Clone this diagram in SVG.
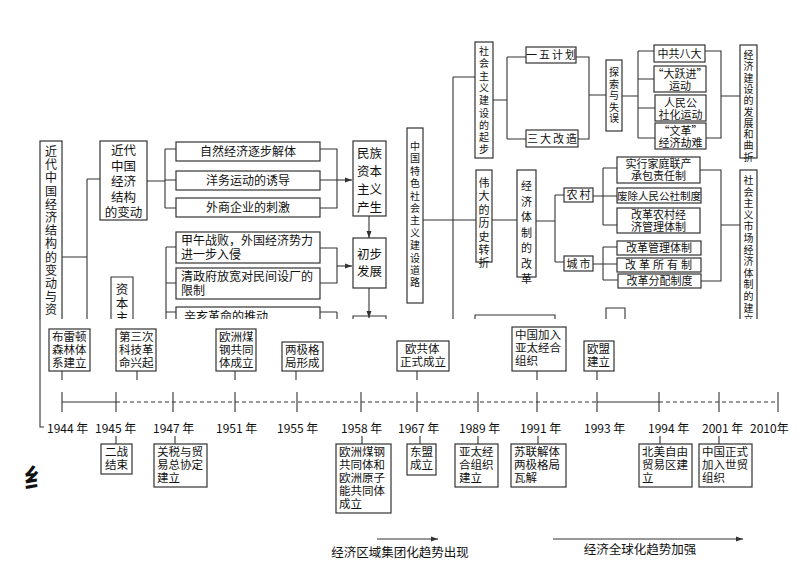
<svg xmlns="http://www.w3.org/2000/svg" width="800" height="566" viewBox="0 0 800 566">
<style>
text{font-family:"Noto Sans CJK SC","Noto Sans",sans-serif;fill:#111;}
.b{fill:#fff;stroke:#333;stroke-width:1.2}
.l{fill:none;stroke:#333;stroke-width:1.1}
.t12{font-size:12px}.t11{font-size:11px}.t10{font-size:10px}.t13{font-size:12.5px}.e{font-size:11.5px}
.m{text-anchor:middle}
.d{stroke-dasharray:4 3}
</style>
<defs>
<marker id="a" markerWidth="8" markerHeight="8" refX="7" refY="4" orient="auto" markerUnits="userSpaceOnUse"><path d="M0,1.5 L7,4 L0,6.5 z" fill="#333"/></marker>
<clipPath id="top"><rect x="0" y="0" width="800" height="319"/></clipPath>
</defs>
<rect width="800" height="566" fill="#fff"/>
<g id="upper" clip-path="url(#top)">
<g id="connectors" class="l">
<path d="M62,257 H87 M87,179 V330 M87,179 H100"/>
<path d="M147,181 H165 M165,149 V208 M165,149 H176 M165,180 H176 M165,208 H176"/>
<path d="M320,149 H337 V208 H320 M320,180 H337"/>
<path d="M337,180 H352" marker-end="url(#a)"/>
<path d="M369,216 V238" marker-end="url(#a)"/>
<path d="M369,288 V318" marker-end="url(#a)"/>
<path d="M166,247 V330 M166,247 H176 M166,283 H176 M166,312 H176"/>
<path d="M320,248 H337 V283 H320 M337,312 V330 M320,312 H337"/>
<path d="M337,266 H352" marker-end="url(#a)"/>
<path d="M423,220 H453 M453,77 V330 M453,77 H475 M453,220 H476"/>
<path d="M493,100 H507 M507,57 V139 M507,57 H526 M507,139 H526"/>
<path d="M576,57 H589 V139 H578 M589,95 H606"/>
<path d="M622,96 H638 M638,51 V138 M638,51 H654 M638,79 H654 M638,108 H655 M638,138 H655"/>
<path d="M705,51 H721 V138 H706 M721,96 H740"/>
<path d="M492,220 H517 M536,221 H555 M555,195 V262 M555,195 H564 M555,262 H564"/>
<path d="M593,196 H603 M603,168 V225 M603,168 H617 M603,196 H617 M603,225 H617"/>
<path d="M593,264 H603 M603,247 V280 M603,247 H617 M603,264 H617 M603,280 H618"/>
<path d="M700,170 H721 V281 H701 M721,225 H740"/>
<path d="M475,330 V315 H555 V330 M606,330 V308 H625 V330"/>
<path d="M353,330 V316 H386 V330"/>
<path d="M111,330 V277 H133 V330"/>
</g>
<g id="n-left"><rect class="b" x="40" y="141" width="22" height="200"/>
<text class="t12 m"><tspan x="51" y="156">近</tspan><tspan x="51" dy="13.2">代</tspan><tspan x="51" dy="13.2">中</tspan><tspan x="51" dy="13.2">国</tspan><tspan x="51" dy="13.2">经</tspan><tspan x="51" dy="13.2">济</tspan><tspan x="51" dy="13.2">结</tspan><tspan x="51" dy="13.2">构</tspan><tspan x="51" dy="13.2">的</tspan><tspan x="51" dy="13.2">变</tspan><tspan x="51" dy="13.2">动</tspan><tspan x="51" dy="13.2">与</tspan><tspan x="51" dy="13.2">资</tspan></text></g>
<g id="n-jgbd"><rect class="b" x="100" y="141" width="47" height="79"/>
<text class="t13 m"><tspan x="123.5" y="155">近代</tspan><tspan x="123.5" dy="15.5">中国</tspan><tspan x="123.5" dy="15.5">经济</tspan><tspan x="123.5" dy="15.5">结构</tspan><tspan x="123.5" dy="15.5">的变动</tspan></text></g>
<g id="n-zb"><text class="t13 m"><tspan x="122" y="294">资</tspan><tspan x="122" dy="14">本</tspan><tspan x="122" dy="14">主</tspan></text></g>
<g id="n-zr"><rect class="b" x="176" y="142" width="144" height="19"/><text class="t12 m" x="248" y="156">自然经济逐步解体</text></g>
<g id="n-yw"><rect class="b" x="176" y="171" width="144" height="19"/><text class="t12 m" x="248" y="185">洋务运动的诱导</text></g>
<g id="n-ws"><rect class="b" x="176" y="198" width="144" height="19"/><text class="t12 m" x="248" y="212">外商企业的刺激</text></g>
<g id="n-mz"><rect class="b" x="353" y="141" width="33" height="75"/>
<text class="t13 m"><tspan x="369.5" y="158">民族</tspan><tspan x="369.5" dy="18">资本</tspan><tspan x="369.5" dy="18">主义</tspan><tspan x="369.5" dy="18">产生</tspan></text></g>
<g id="n-cb"><rect class="b" x="353" y="238" width="33" height="50"/>
<text class="t13 m"><tspan x="369.5" y="259">初步</tspan><tspan x="369.5" dy="17">发展</tspan></text></g>
<g id="n-jw"><rect class="b" x="176" y="232" width="144" height="31"/>
<text class="t12"><tspan x="181" y="245">甲午战败，外国经济势力</tspan><tspan x="181" dy="14">进一步入侵</tspan></text></g>
<g id="n-qzf"><rect class="b" x="176" y="268" width="144" height="31"/>
<text class="t12"><tspan x="181" y="281">清政府放宽对民间设厂的</tspan><tspan x="181" dy="14">限制</tspan></text></g>
<g id="n-xh"><rect class="b" x="176" y="307" width="144" height="19"/><text class="t12" x="184" y="321">辛亥革命的推动</text></g>
<g id="n-zgts"><rect class="b" x="407" y="128" width="16" height="175"/>
<text class="t10 m"><tspan x="415" y="150">中</tspan><tspan x="415" dy="12.4">国</tspan><tspan x="415" dy="12.4">特</tspan><tspan x="415" dy="12.4">色</tspan><tspan x="415" dy="12.4">社</tspan><tspan x="415" dy="12.4">会</tspan><tspan x="415" dy="12.4">主</tspan><tspan x="415" dy="12.4">义</tspan><tspan x="415" dy="12.4">建</tspan><tspan x="415" dy="12.4">设</tspan><tspan x="415" dy="12.4">道</tspan><tspan x="415" dy="12.4">路</tspan></text></g>
<g id="n-qb"><rect class="b" x="475" y="42" width="18" height="116"/>
<text class="t10 m"><tspan x="484" y="55">社</tspan><tspan x="484" dy="12.3">会</tspan><tspan x="484" dy="12.3">主</tspan><tspan x="484" dy="12.3">义</tspan><tspan x="484" dy="12.3">建</tspan><tspan x="484" dy="12.3">设</tspan><tspan x="484" dy="12.3">的</tspan><tspan x="484" dy="12.3">起</tspan><tspan x="484" dy="12.3">步</tspan></text></g>
<g id="n-15"><rect class="b" x="526" y="47" width="50" height="16"/><text class="t11 m" x="552" y="59" letter-spacing="2">一五计划</text></g>
<g id="n-3d"><rect class="b" x="526" y="130" width="52" height="17"/><text class="t11 m" x="553" y="143" letter-spacing="2">三大改造</text></g>
<g id="n-ts"><rect class="b" x="606" y="60" width="16" height="71"/>
<text class="t10 m"><tspan x="614" y="76">探</tspan><tspan x="614" dy="11.5">索</tspan><tspan x="614" dy="11.5">与</tspan><tspan x="614" dy="11.5">失</tspan><tspan x="614" dy="11.5">误</tspan></text></g>
<g id="n-8d"><rect class="b" x="654" y="45" width="51" height="17"/><text class="t11 m" x="679.5" y="58">中共八大</text></g>
<g id="n-dyj"><rect class="b" x="654" y="66" width="52" height="26"/><text class="t11 m"><tspan x="680" y="78">“大跃进”</tspan><tspan x="680" dy="12">运动</tspan></text></g>
<g id="n-rmgs"><rect class="b" x="655" y="95" width="51" height="26"/><text class="t11 m"><tspan x="680.5" y="107">人民公</tspan><tspan x="680.5" dy="12">社化运动</tspan></text></g>
<g id="n-wg"><rect class="b" x="655" y="123" width="51" height="26"/><text class="t11 m"><tspan x="680.5" y="135">“文革”</tspan><tspan x="680.5" dy="12">经济劫难</tspan></text></g>
<g id="n-fzqz"><rect class="b" x="740" y="45" width="17" height="113"/>
<text class="t10 m"><tspan x="748.5" y="59">经</tspan><tspan x="748.5" dy="11.3">济</tspan><tspan x="748.5" dy="11.3">建</tspan><tspan x="748.5" dy="11.3">设</tspan><tspan x="748.5" dy="11.3">的</tspan><tspan x="748.5" dy="11.3">发</tspan><tspan x="748.5" dy="11.3">展</tspan><tspan x="748.5" dy="11.3">和</tspan><tspan x="748.5" dy="11.3">曲</tspan><tspan x="748.5" dy="11.3">折</tspan></text></g>
<g id="n-wd"><rect class="b" x="476" y="170" width="16" height="92"/>
<text class="t11 m"><tspan x="484" y="187">伟</tspan><tspan x="484" dy="13.4">大</tspan><tspan x="484" dy="13.4">的</tspan><tspan x="484" dy="13.4">历</tspan><tspan x="484" dy="13.4">史</tspan><tspan x="484" dy="13.4">转</tspan><tspan x="484" dy="13.4">折</tspan></text></g>
<g id="n-gg"><rect class="b" x="517" y="170" width="19" height="107"/>
<text class="t11 m"><tspan x="526.5" y="190">经</tspan><tspan x="526.5" dy="15.5">济</tspan><tspan x="526.5" dy="15.5">体</tspan><tspan x="526.5" dy="15.5">制</tspan><tspan x="526.5" dy="15.5">的</tspan><tspan x="526.5" dy="15.5">改</tspan><tspan x="526.5" dy="15.5">革</tspan></text></g>
<g id="n-nc"><rect class="b" x="564" y="188" width="29" height="14"/><text class="t11 m" x="579.5" y="199" letter-spacing="2">农村</text></g>
<g id="n-cs"><rect class="b" x="564" y="256" width="29" height="15"/><text class="t11 m" x="579.5" y="268" letter-spacing="2">城市</text></g>
<g id="n-jt"><rect class="b" x="617" y="157" width="83" height="26"/><text class="t11 m"><tspan x="658.5" y="168">实行家庭联产</tspan><tspan x="658.5" dy="12">承包责任制</tspan></text></g>
<g id="n-fc"><rect class="b" x="617" y="188" width="84" height="15"/><text class="m" x="659" y="200" font-size="10.5">废除人民公社制度</text></g>
<g id="n-ncjj"><rect class="b" x="617" y="208" width="83" height="25"/><text class="t11 m"><tspan x="658.5" y="219">改革农村经</tspan><tspan x="658.5" dy="12">济管理体制</tspan></text></g>
<g id="n-gl"><rect class="b" x="617" y="241" width="84" height="14"/><text class="t11 m" x="659" y="252">改革管理体制</text></g>
<g id="n-syz"><rect class="b" x="617" y="258" width="84" height="14"/><text class="t11 m" x="660" y="269" letter-spacing="3">改革所有制</text></g>
<g id="n-fp"><rect class="b" x="618" y="274" width="83" height="14"/><text class="t11 m" x="659.5" y="285">改革分配制度</text></g>
<g id="n-scjj"><rect class="b" x="740" y="170" width="17" height="160"/>
<text class="t10 m"><tspan x="748.5" y="184">社</tspan><tspan x="748.5" dy="11.6">会</tspan><tspan x="748.5" dy="11.6">主</tspan><tspan x="748.5" dy="11.6">义</tspan><tspan x="748.5" dy="11.6">市</tspan><tspan x="748.5" dy="11.6">场</tspan><tspan x="748.5" dy="11.6">经</tspan><tspan x="748.5" dy="11.6">济</tspan><tspan x="748.5" dy="11.6">体</tspan><tspan x="748.5" dy="11.6">制</tspan><tspan x="748.5" dy="11.6">的</tspan><tspan x="748.5" dy="11.6">建</tspan><tspan x="748.5" dy="11.6">立</tspan></text></g>
</g>
<g id="timeline">
<path class="l" d="M40,319 V427 H44"/>
<path class="l" d="M62,402 H116 M597,402 H659"/>
<path class="l d" d="M116,402 H597 M659,402 H778"/>
<path class="l" d="M62,392 V412 M116,392 V412 M173,392 V412 M235,392 V412 M297,392 V412 M361,392 V412 M417,392 V412 M478,392 V412 M537,392 V412 M597,392 V412 M659,392 V412 M719,392 V412 M778,392 V412"/>
<path class="l" d="M62,371 V380 M137,371 V380 M235,371 V380 M296,371 V380 M417,371 V380 M537,371 V380 M597,371 V380"/>
<path class="l" d="M116,436 V444 M175,436 V444 M362,436 V444 M420,436 V444 M478,436 V444 M538,436 V444 M660,436 V444 M719,436 V444"/>
<g font-size="12px">
<text x="47" y="433">1944 年</text><text x="95" y="433">1945 年</text><text x="153" y="433">1947 年</text><text x="216" y="433">1951 年</text><text x="277" y="433">1955 年</text><text x="341" y="433">1958 年</text><text x="398" y="433">1967 年</text><text x="459" y="433">1989 年</text><text x="520" y="433">1991 年</text><text x="584" y="433">1993 年</text><text x="648" y="433">1994 年</text><text x="702" y="433">2001 年</text><text x="750" y="433">2010年</text>
</g>
<text x="24" y="488" font-size="26" font-weight="bold">纟</text>
</g>
<g id="events" class="e">
<g id="e1"><rect class="b" x="49" y="329" width="41" height="42"/><text><tspan x="52" y="341">布雷顿</tspan><tspan x="52" dy="13">森林体</tspan><tspan x="52" dy="13">系建立</tspan></text></g>
<g id="e2"><rect class="b" x="116" y="329" width="40" height="42"/><text><tspan x="119" y="341">第三次</tspan><tspan x="119" dy="13">科技革</tspan><tspan x="119" dy="13">命兴起</tspan></text></g>
<g id="e3"><rect class="b" x="216" y="329" width="40" height="42"/><text><tspan x="219" y="341">欧洲煤</tspan><tspan x="219" dy="13">钢共同</tspan><tspan x="219" dy="13">体成立</tspan></text></g>
<g id="e4"><rect class="b" x="282" y="342" width="41" height="29"/><text><tspan x="285" y="354">两极格</tspan><tspan x="285" dy="13">局形成</tspan></text></g>
<g id="e5"><rect class="b" x="397" y="341" width="52" height="30"/><text><tspan x="405" y="353">欧共体</tspan><tspan x="400" dy="13">正式成立</tspan></text></g>
<g id="e6"><rect class="b" x="512" y="327" width="54" height="44"/><text><tspan x="515" y="339">中国加入</tspan><tspan x="515" dy="13">亚太经合</tspan><tspan x="515" dy="13">组织</tspan></text></g>
<g id="e7"><rect class="b" x="584" y="341" width="30" height="30"/><text><tspan x="587" y="353">欧盟</tspan><tspan x="587" dy="13">建立</tspan></text></g>
<g id="e8"><rect class="b" x="101" y="444" width="31" height="30"/><text><tspan x="105" y="456">二战</tspan><tspan x="105" dy="13">结束</tspan></text></g>
<g id="e9"><rect class="b" x="154" y="444" width="53" height="43"/><text><tspan x="157" y="456">关税与贸</tspan><tspan x="157" dy="13">易总协定</tspan><tspan x="157" dy="13">建立</tspan></text></g>
<g id="e10"><rect class="b" x="336" y="444" width="55" height="69"/><text><tspan x="339" y="456">欧洲煤钢</tspan><tspan x="339" dy="13">共同体和</tspan><tspan x="339" dy="13">欧洲原子</tspan><tspan x="339" dy="13">能共同体</tspan><tspan x="339" dy="13">成立</tspan></text></g>
<g id="e11"><rect class="b" x="407" y="444" width="29" height="31"/><text><tspan x="410" y="456">东盟</tspan><tspan x="410" dy="13">成立</tspan></text></g>
<g id="e12"><rect class="b" x="455" y="444" width="43" height="43"/><text><tspan x="459" y="456">亚太经</tspan><tspan x="459" dy="13">合组织</tspan><tspan x="459" dy="13">建立</tspan></text></g>
<g id="e13"><rect class="b" x="511" y="444" width="55" height="43"/><text><tspan x="514" y="456">苏联解体</tspan><tspan x="514" dy="13">两极格局</tspan><tspan x="514" dy="13">瓦解</tspan></text></g>
<g id="e14"><rect class="b" x="639" y="444" width="53" height="43"/><text><tspan x="642" y="456">北美自由</tspan><tspan x="642" dy="13">贸易区建</tspan><tspan x="642" dy="13">立</tspan></text></g>
<g id="e15"><rect class="b" x="699" y="444" width="53" height="43"/><text><tspan x="702" y="456">中国正式</tspan><tspan x="702" dy="13">加入世贸</tspan><tspan x="702" dy="13">组织</tspan></text></g>
</g>
<g id="trends">
<path class="l" d="M377,539 H438" marker-end="url(#a)"/>
<path class="l" d="M553,539 H743" marker-end="url(#a)"/>
<text class="t13 m" x="400" y="557">经济区域集团化趋势出现</text>
<text class="t13 m" x="640" y="554">经济全球化趋势加强</text>
</g>
</svg>
